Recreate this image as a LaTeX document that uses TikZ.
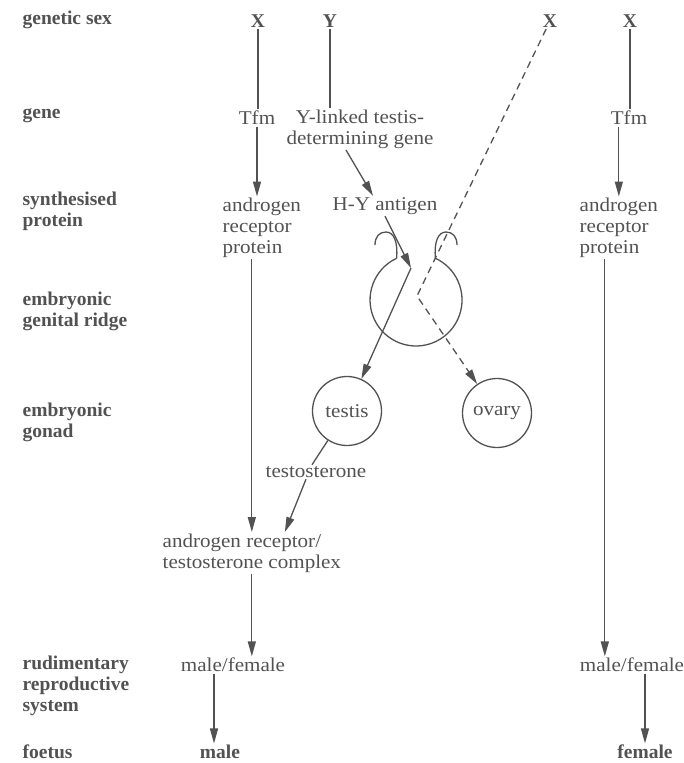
\documentclass[tikz,border=0pt]{standalone}
\usepackage{fontspec}
\setmainfont{Liberation Serif}[FakeStretch=1.08]
\newfontfamily\labelfont{Liberation Serif}
\usetikzlibrary{arrows.meta, positioning, calc}
\definecolor{ink}{gray}{0.32}

\begin{document}
\begin{tikzpicture}[x=1pt, y=-1pt, line width=1.3pt, color=ink,
  every node/.style={font=\fontsize{19.5}{21}\selectfont, inner sep=1pt},
  row/.style={anchor=west, align=left, font=\labelfont\bfseries\fontsize{19.5}{21}\selectfont},
  chrom/.style={font=\labelfont\bfseries\fontsize{19.5}{21}\selectfont},
  arr/.style={-{Triangle[length=15pt, width=8pt]}},
  gonad/.style={draw, circle, minimum size=69pt, inner sep=0pt}]

\useasboundingbox (0,0) rectangle (683,763);

% stage labels
\node[row] (lsex) at (21,20) {genetic sex};
\node[row] (lgene) at (21,116) {gene};
\node[row] (lprot) at (21,211) {synthesised\\protein};
\node[row] (lridge) at (21,311) {embryonic\\genital ridge};
\node[row] (lgonad) at (21,422) {embryonic\\gonad};
\node[row] (lrudi) at (21,686) {rudimentary\\reproductive\\system};
\node[row] (lfoetus) at (21,752) {foetus};

% sex chromosomes
\node[chrom] (x1) at (258,21) {X};
\node[chrom] (y1) at (330,21) {Y};
\node[chrom] (x2) at (550,21) {X};
\node[chrom] (x3) at (630,21) {X};

% XY column
\node (tfm1) at (257,118) {Tfm};
\node[anchor=west, align=left] (arp1) at (221,228) {androgen\\receptor\\protein};
\node[anchor=west, align=left] (cplx) at (161,553) {androgen receptor/\\testosterone complex};
\node (mf1) at (233,665) {male/female};
\node[chrom] (male) at (220,752) {male};

\draw (x1.south) -- (x1.south |- tfm1.north);
\draw[arr] (tfm1.south) -- (tfm1.south |- arp1.north);
\draw[arr] (cplx.north |- arp1.south) -- (cplx.north);
\draw[arr] (cplx.south) -- (cplx.south |- mf1.north);
\draw[arr] ([xshift=-6]male.north |- mf1.south) -- ([xshift=-6]male.north);

% Y gene and H-Y antigen
\node[align=center] (ylink) at (360,129) {Y-linked testis-\\determining gene};
\node (hy) at (385,206) {H-Y antigen};
\coordinate (fork) at (411,268);
\coordinate (bend) at (417,296);

\draw (y1.south) -- (y1.south |- ylink.north);
\draw[arr] ([xshift=-14]ylink.south) -- ([xshift=-12]hy.north);

% genital ridge, open at the top
\draw (396.6,258.3) arc[start angle=245, end angle=-65, radius=46];
\draw (396.6,258.3) .. controls (398,242) and (394,232) .. (386,232)
      .. controls (379,232) and (375,237) .. (375,245);
\draw (435.4,258.3) .. controls (434,242) and (438,232) .. (446,232)
      .. controls (453,232) and (457,237) .. (457,245);

% gonads
\node[gonad] (testis) at (347,411) {testis};
\node[gonad] (ovary) at (497,413) {ovary};
\node (testo) at (316,472) {testosterone};

\draw[arr] (hy.south) -- (fork);
\draw[arr] (fork) -- (testis);
\draw[arr, dash pattern=on 7pt off 5pt] (x2) -- (bend) -- (ovary);
\draw (testis) -- ([xshift=-4]testo.north);
\draw[arr] ([xshift=-10]testo.south) -- ([xshift=33]cplx.north);

% XX column
\node (tfm3) at (629,118) {Tfm};
\node[anchor=west, align=left] (arp3) at (578,228) {androgen\\receptor\\protein};
\node (mf3) at (632,665) {male/female};
\node[chrom] (female) at (645,752) {female};

\draw (x3.south) -- (x3.south |- tfm3.north);
\draw[arr] (arp3.north |- tfm3.south) -- (arp3.north);
\draw[arr] ([xshift=-14]arp3.south) -- ([xshift=-14]arp3.south |- mf3.north);
\draw[arr] (female.north |- mf3.south) -- (female.north);

\end{tikzpicture}
\end{document}
